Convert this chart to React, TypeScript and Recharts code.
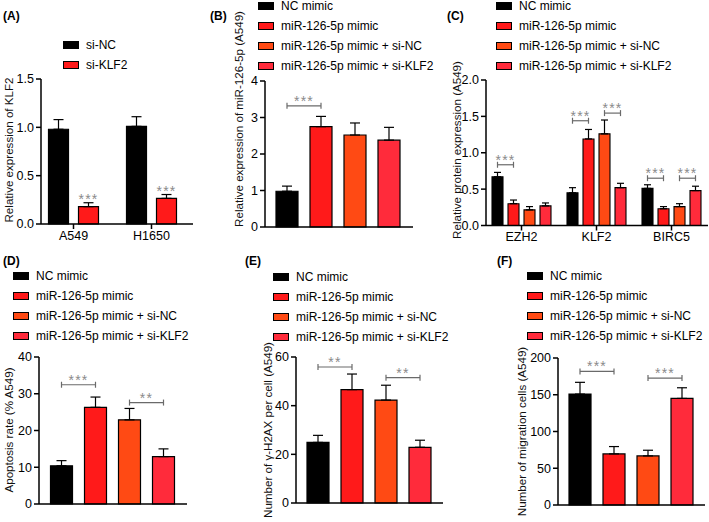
import React from 'react';
import { BarChart, Bar, XAxis, YAxis, ErrorBar, Cell, ReferenceLine, ReferenceDot } from 'recharts';

const FONT = '"Liberation Sans", Arial, Helvetica, sans-serif';
const LINE_GRAY = '#6a6a6a';
const STAR_GRAY = '#8a8a8a';

// ---------- shared groups ----------
const groups4 = ['NC mimic', 'miR-126-5p mimic', 'miR-126-5p mimic + si-NC', 'miR-126-5p mimic + si-KLF2'];
const colors4 = ['#000000', '#FF1A1A', '#FF4A14', '#FF2B3B'];

// ---------- (A) ----------
const aSeries = ['si-NC', 'si-KLF2'];
const aColors = ['#000000', '#FF1A1A'];
const aCells = ['A549', 'H1650'];
const aSiNC = [0.98, 1.01];
const aSiNCErr = [0.1, 0.1];
const aSiKLF2 = [0.18, 0.265];
const aSiKLF2Err = [0.04, 0.04];
const aStars = ['***', '***'];
const aTicks = [0, 0.5, 1.0, 1.5];

// ---------- (B) ----------
const bValues = [0.98, 2.75, 2.52, 2.38];
const bErr = [0.14, 0.28, 0.33, 0.35];
const bTicks = [0, 1, 2, 3, 4];
const bBrackets = [{ from: 0, to: 1, y: 3.32, text: '***' }];

// ---------- (C) ----------
const cGenes = ['EZH2', 'KLF2', 'BIRC5'];
const cNC = [0.67, 0.45, 0.51];
const cNCErr = [0.06, 0.07, 0.05];
const cMimic = [0.3, 1.19, 0.23];
const cMimicErr = [0.05, 0.13, 0.03];
const cSiNC = [0.215, 1.26, 0.26];
const cSiNCErr = [0.045, 0.19, 0.04];
const cSiKLF2 = [0.27, 0.52, 0.48];
const cSiKLF2Err = [0.04, 0.06, 0.06];
const cTicks = [0, 0.5, 1.0, 1.5, 2.0];
const cBrackets = [
  { gene: 'EZH2', from: 0, to: 1, y: 0.835, text: '***' },
  { gene: 'KLF2', from: 0, to: 1, y: 1.44, text: '***' },
  { gene: 'KLF2', from: 2, to: 3, y: 1.545, text: '***' },
  { gene: 'BIRC5', from: 0, to: 1, y: 0.65, text: '***' },
  { gene: 'BIRC5', from: 2, to: 3, y: 0.65, text: '***' },
];

// ---------- (D) ----------
const dValues = [10.4, 26.3, 22.9, 12.9];
const dErr = [1.4, 2.8, 3.1, 2.1];
const dTicks = [0, 10, 20, 30, 40];
const dBrackets = [
  { from: 0, to: 1, y: 32.45, text: '***' },
  { from: 2, to: 3, y: 27.6, text: '**' },
];

// ---------- (E) ----------
const eValues = [24.9, 46.6, 42.3, 22.9];
const eErr = [2.9, 6.4, 6.1, 2.9];
const eTicks = [0, 20, 40, 60];
const eBrackets = [
  { from: 0, to: 1, y: 55.9, text: '**' },
  { from: 2, to: 3, y: 51.5, text: '**' },
];

// ---------- (F) ----------
const fValues = [150.9, 69.5, 66.8, 145];
const fErr = [16, 10, 7.7, 14.5];
const fTicks = [0, 50, 100, 150, 200];
const fBrackets = [
  { from: 0, to: 1, y: 181.8, text: '***' },
  { from: 2, to: 3, y: 172.7, text: '***' },
];

// ---------- helpers ----------
interface Geo { pl: number; pt: number; pr: number; pb: number; yw: number; xh: number }
const MT = 80;
const MR = 4;
const MB = 24;
function frame(g: Geo) {
  const L = g.pl - g.yw;
  const T = g.pt - MT;
  return { L, T, W: g.pr - L + MR, H: MT + (g.pb - g.pt) + g.xh + MB };
}
const chartMargin = { top: MT, right: MR, bottom: MB, left: 0 };

const axisStroke = { stroke: '#000', strokeWidth: 1.5 };
const tickStyle = { fill: '#000', fontSize: 12.5, fontFamily: FONT };

function yTitle(text: string, ax: number, ay: number, f: { L: number; T: number }) {
  return () => {
    const x = ax - f.L;
    const y = ay - f.T;
    return (
      <text
        x={x}
        y={y}
        transform={`rotate(-90 ${x} ${y})`}
        textAnchor="middle"
        dominantBaseline="central"
        fontSize={11.6}
        fill="#111"
        style={{ fontFamily: FONT }}
      >
        {text}
      </text>
    );
  };
}

function bracketShape(text: string, offFrom: number, offTo: number) {
  return (p: any) => {
    const x1 = p.x1 + offFrom;
    const x2 = p.x2 + offTo;
    const y = p.y1;
    return (
      <g>
        <line x1={x1} y1={y} x2={x2} y2={y} stroke={LINE_GRAY} strokeWidth={1.2} />
        <line x1={x1} y1={y - 3} x2={x1} y2={y + 3} stroke={LINE_GRAY} strokeWidth={1.2} />
        <line x1={x2} y1={y - 3} x2={x2} y2={y + 3} stroke={LINE_GRAY} strokeWidth={1.2} />
        <text x={(x1 + x2) / 2} y={y} textAnchor="middle" fontSize={14} fill={STAR_GRAY} letterSpacing={1.2} style={{ fontFamily: FONT }}>
          {text}
        </text>
      </g>
    );
  };
}

function starShape(text: string, off: number) {
  return (p: any) => (
    <text x={p.cx + off} y={p.cy + 1.5} textAnchor="middle" fontSize={14} fill={STAR_GRAY} letterSpacing={1.2} style={{ fontFamily: FONT }}>
      {text}
    </text>
  );
}

function LegendBox({ x, y, names, colors }: { x: number; y: number; names: string[]; colors: string[] }) {
  return (
    <div style={{ position: 'absolute', left: x, top: y }}>
      {names.map((n, i) => (
        <div
          key={n}
          style={{ position: 'absolute', left: 0, top: i * 20, height: 14, display: 'flex', alignItems: 'center', whiteSpace: 'nowrap' }}
        >
          <span
            style={{
              display: 'inline-block',
              width: 16,
              height: 8,
              background: colors[i],
              border: '1px solid #000',
              boxSizing: 'border-box',
              marginRight: 7,
            }}
          />
          <span style={{ fontSize: 12, lineHeight: '14px', color: '#000' }}>{n}</span>
        </div>
      ))}
    </div>
  );
}

function PanelLetter({ x, y, text }: { x: number; y: number; text: string }) {
  return (
    <div style={{ position: 'absolute', left: x, top: y, fontSize: 12, fontWeight: 'bold', lineHeight: '14px' }}>{text}</div>
  );
}

// ---------- single-series 4-bar panel ----------
function FourBarPanel(props: {
  geo: Geo;
  values: number[];
  errs: number[];
  ticks: number[];
  brackets: { from: number; to: number; y: number; text: string }[];
  title: string;
  titleX: number;
  titleY: number;
  padL: number;
  padR: number;
}) {
  const { geo, values, errs, ticks, brackets, title, titleX, titleY, padL, padR } = props;
  const f = frame(geo);
  const rows = groups4.map((g, i) => ({ group: g, value: values[i], err: [0, errs[i]] }));
  return (
    <div style={{ position: 'absolute', left: f.L, top: f.T }}>
      <BarChart width={f.W} height={f.H} data={rows} margin={chartMargin} barSize={22}>
        <XAxis
          dataKey="group"
          tick={false}
          tickLine={false}
          height={geo.xh}
          axisLine={axisStroke}
          padding={{ left: padL, right: padR }}
        />
        <YAxis
          width={geo.yw}
          domain={[ticks[0], ticks[ticks.length - 1]]}
          ticks={ticks}
          interval={0}
          tick={tickStyle}
          tickSize={5}
          tickLine={axisStroke}
          axisLine={axisStroke}
          label={yTitle(title, titleX, titleY, f)}
        />
        <Bar dataKey="value" stroke="#000" strokeWidth={1.2} isAnimationActive={false}>
          {rows.map((r, i) => (
            <Cell key={r.group} fill={colors4[i]} />
          ))}
          <ErrorBar dataKey="err" width={5} stroke="#000" strokeWidth={1.2} direction="y" />
        </Bar>
        {brackets.map((b, i) => (
          <ReferenceLine
            key={i}
            segment={[
              { x: groups4[b.from], y: b.y },
              { x: groups4[b.to], y: b.y },
            ]}
            shape={bracketShape(b.text, 0, 0)}
          />
        ))}
      </BarChart>
    </div>
  );
}

// ---------- Panel A ----------
function PanelA() {
  const geo: Geo = { pl: 41, pt: 79, pr: 193, pb: 224, yw: 41, xh: 30 };
  const f = frame(geo);
  const rows = aCells.map((c, i) => ({
    cell: c,
    siNC: aSiNC[i],
    siNCErr: [0, aSiNCErr[i]],
    siKLF2: aSiKLF2[i],
    siKLF2Err: [0, aSiKLF2Err[i]],
  }));
  return (
    <div style={{ position: 'absolute', left: f.L, top: f.T }}>
      <BarChart width={f.W} height={f.H} data={rows} margin={chartMargin} barSize={20} barGap={10}>
        <XAxis
          dataKey="cell"
          height={geo.xh}
          interval={0}
          tick={tickStyle}
          tickSize={5}
          tickLine={axisStroke}
          axisLine={axisStroke}
          padding={{ left: -6.5, right: 2.5 }}
        />
        <YAxis
          width={geo.yw}
          domain={[0, 1.5]}
          ticks={aTicks}
          interval={0}
          tickFormatter={(v: number) => v.toFixed(1)}
          tick={tickStyle}
          tickSize={5}
          tickLine={axisStroke}
          axisLine={axisStroke}
          label={yTitle('Relative expression of KLF2', 8, 150, f)}
        />
        <Bar dataKey="siNC" name={aSeries[0]} fill={aColors[0]} stroke="#000" strokeWidth={1.2} isAnimationActive={false}>
          <ErrorBar dataKey="siNCErr" width={5} stroke="#000" strokeWidth={1.2} direction="y" />
        </Bar>
        <Bar dataKey="siKLF2" name={aSeries[1]} fill={aColors[1]} stroke="#000" strokeWidth={1.2} isAnimationActive={false}>
          <ErrorBar dataKey="siKLF2Err" width={5} stroke="#000" strokeWidth={1.2} direction="y" />
        </Bar>
        {aCells.map((c, i) => (
          <ReferenceDot key={c} x={c} y={aSiKLF2[i] + aSiKLF2Err[i]} shape={starShape(aStars[i], 15)} />
        ))}
      </BarChart>
    </div>
  );
}

// ---------- Panel C ----------
function PanelC() {
  const geo: Geo = { pl: 486, pt: 80, pr: 708, pb: 225.5, yw: 40, xh: 30 };
  const f = frame(geo);
  const size = 11;
  const gap = 5;
  const off = (k: number) => (k - 1.5) * (size + gap);
  const rows = cGenes.map((g, i) => ({
    gene: g,
    nc: cNC[i],
    ncErr: [0, cNCErr[i]],
    mimic: cMimic[i],
    mimicErr: [0, cMimicErr[i]],
    sinc: cSiNC[i],
    sincErr: [0, cSiNCErr[i]],
    siklf2: cSiKLF2[i],
    siklf2Err: [0, cSiKLF2Err[i]],
  }));
  const keys = ['nc', 'mimic', 'sinc', 'siklf2'];
  return (
    <div style={{ position: 'absolute', left: f.L, top: f.T }}>
      <BarChart width={f.W} height={f.H} data={rows} margin={chartMargin} barSize={size} barGap={gap}>
        <XAxis
          dataKey="gene"
          height={geo.xh}
          interval={0}
          tick={tickStyle}
          tickSize={5}
          tickLine={axisStroke}
          axisLine={axisStroke}
          padding={{ left: -2, right: -1 }}
        />
        <YAxis
          width={geo.yw}
          domain={[0, 2]}
          ticks={cTicks}
          interval={0}
          tickFormatter={(v: number) => v.toFixed(1)}
          tick={tickStyle}
          tickSize={5}
          tickLine={axisStroke}
          axisLine={axisStroke}
          label={yTitle('Relative protein expression (A549)', 456, 150, f)}
        />
        {keys.map((k, i) => (
          <Bar key={k} dataKey={k} name={groups4[i]} fill={colors4[i]} stroke="#000" strokeWidth={1.1} isAnimationActive={false}>
            <ErrorBar dataKey={k + 'Err'} width={3.5} stroke="#000" strokeWidth={1.2} direction="y" />
          </Bar>
        ))}
        {cBrackets.map((b, i) => (
          <ReferenceLine
            key={i}
            segment={[
              { x: b.gene, y: b.y },
              { x: b.gene, y: b.y },
            ]}
            shape={bracketShape(b.text, off(b.from), off(b.to))}
          />
        ))}
      </BarChart>
    </div>
  );
}

export default function App() {
  return (
    <div
      style={{
        position: 'absolute',
        left: 0,
        top: 0,
        width: 709,
        height: 522,
        background: '#fff',
        fontFamily: FONT,
        color: '#000',
        overflow: 'hidden',
      }}
    >
      <PanelLetter x={3} y={9} text="(A)" />
      <PanelLetter x={210} y={9} text="(B)" />
      <PanelLetter x={447} y={9} text="(C)" />
      <PanelLetter x={3} y={254} text="(D)" />
      <PanelLetter x={245} y={254} text="(E)" />
      <PanelLetter x={497} y={254} text="(F)" />

      <LegendBox x={63} y={38} names={aSeries} colors={aColors} />
      <LegendBox x={258} y={-1} names={groups4} colors={colors4} />
      <LegendBox x={496} y={-1} names={groups4} colors={colors4} />
      <LegendBox x={13} y={269} names={groups4} colors={colors4} />
      <LegendBox x={273} y={270} names={groups4} colors={colors4} />
      <LegendBox x={527} y={269} names={groups4} colors={colors4} />

      <PanelA />
      <FourBarPanel
        geo={{ pl: 265, pt: 81, pr: 413, pb: 227, yw: 40, xh: 4 }}
        values={bValues}
        errs={bErr}
        ticks={bTicks}
        brackets={bBrackets}
        title="Relative expression of miR-126-5p (A549)"
        titleX={238}
        titleY={119}
        padL={5}
        padR={7}
      />
      <PanelC />
      <FourBarPanel
        geo={{ pl: 39, pt: 357, pr: 187, pb: 504, yw: 39, xh: 4 }}
        values={dValues}
        errs={dErr}
        ticks={dTicks}
        brackets={dBrackets}
        title="Apoptosis rate (% A549)"
        titleX={8}
        titleY={430}
        padL={5.5}
        padR={6.5}
      />
      <FourBarPanel
        geo={{ pl: 296, pt: 357, pr: 443, pb: 503, yw: 40, xh: 4 }}
        values={eValues}
        errs={eErr}
        ticks={eTicks}
        brackets={eBrackets}
        title="Number of γ-H2AX per cell (A549)"
        titleX={267}
        titleY={430}
        padL={5}
        padR={6}
      />
      <FourBarPanel
        geo={{ pl: 558, pt: 358, pr: 705, pb: 505, yw: 50, xh: 4 }}
        values={fValues}
        errs={fErr}
        ticks={fTicks}
        brackets={fBrackets}
        title="Number of migration cells (A549)"
        titleX={521}
        titleY={431.5}
        padL={5}
        padR={6}
      />
    </div>
  );
}
